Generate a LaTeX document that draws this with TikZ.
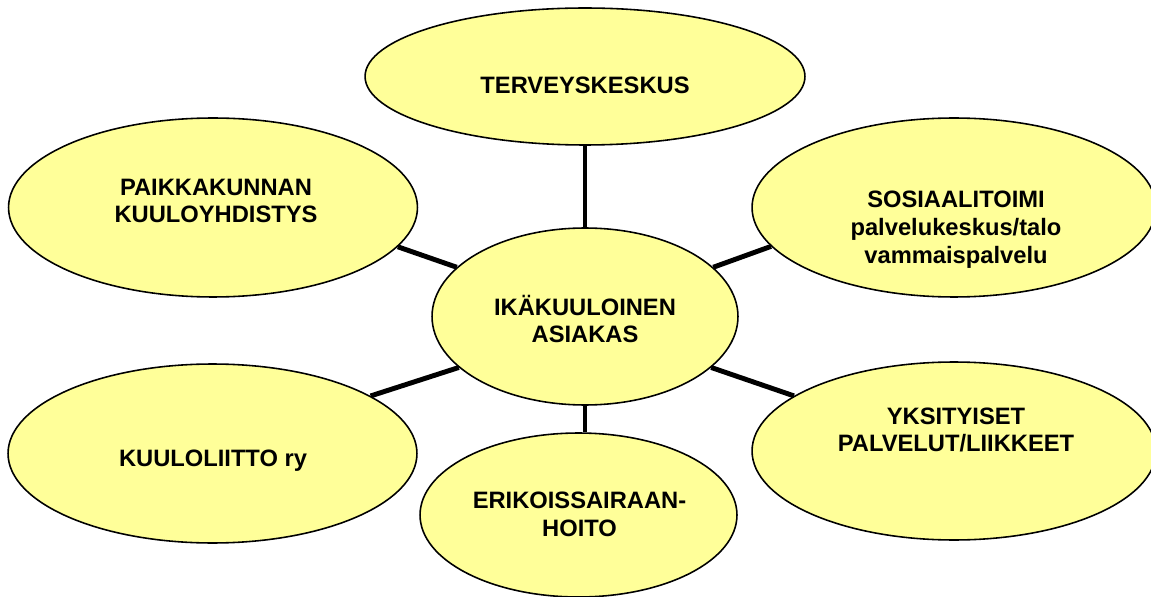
\documentclass[tikz,border=0pt]{standalone}
\usepackage{fontspec}
\setmainfont{Liberation Sans}
\usetikzlibrary{shapes.geometric,backgrounds}
\definecolor{paleyellow}{HTML}{FFFF99}
\tikzset{>=latex}
\tikzset{blob/.style={ellipse,draw,fill=paleyellow,line width=0.9pt,inner sep=0pt},
  tag/.style={align=center,inner sep=0pt,font=\bfseries\fontsize{13.5}{15.8}\selectfont},
  link/.style={line width=2.8pt}}

\begin{document}
\begin{tikzpicture}[x=0.02cm,y=-0.02cm]
    \useasboundingbox (0,0) rectangle (1151,597);
    \clip (0,0) rectangle (1151,597);
    \node [blob,minimum width=8.8cm,minimum height=2.74cm] (ter) at (585,76.5) {};
    \node [blob,minimum width=8.18cm,minimum height=3.58cm] (pai) at (213,207.5) {};
    \node [blob,minimum width=8.08cm,minimum height=3.58cm] (sos) at (954,207.5) {};
    \node [blob,minimum width=6.12cm,minimum height=3.54cm] (ike) at (585,316.5) {};
    \node [blob,minimum width=8.18cm,minimum height=3.58cm] (kuu) at (212.5,453.5) {};
    \node [blob,minimum width=8.08cm,minimum height=3.56cm] (yks) at (954,451) {};
    \node [blob,minimum width=6.34cm,minimum height=3.28cm] (eri) at (578.5,515) {};
    \node [tag] (ter-t) at (585,85) {TERVEYSKESKUS};
    \node [tag] (pai-t) at (216,201) {PAIKKAKUNNAN\\KUULOYHDISTYS};
    \node [tag] (sos-t) at (956,229.5) {SOSIAALITOIMI\\palvelukeskus/talo\\vammaispalvelu};
    \node [tag] (ike-t) at (585,319) {IKÄKUULOINEN\\ASIAKAS};
    \node [tag] (kuu-t) at (213,461) {KUULOLIITTO ry};
    \node [tag] (yks-t) at (956,430) {YKSITYISET\\PALVELUT/LIIKKEET};
    \node [tag] (eri-t) at (579.5,514) {ERIKOISSAIRAAN-\\HOITO};
    \begin{scope}[on background layer]
      \draw [link] (ike.90) -- (ter.270);
      \draw [link] (ike.159) -- (pai.348);
      \draw [link] (ike.21) -- (sos.192);
      \draw [link] (ike.202) -- (kuu.20);
      \draw [link] (ike.338) -- (yks.161);
      \draw [link] (ike.south) -- (ike.south |- eri.north);
    \end{scope}
\end{tikzpicture}
\end{document}
